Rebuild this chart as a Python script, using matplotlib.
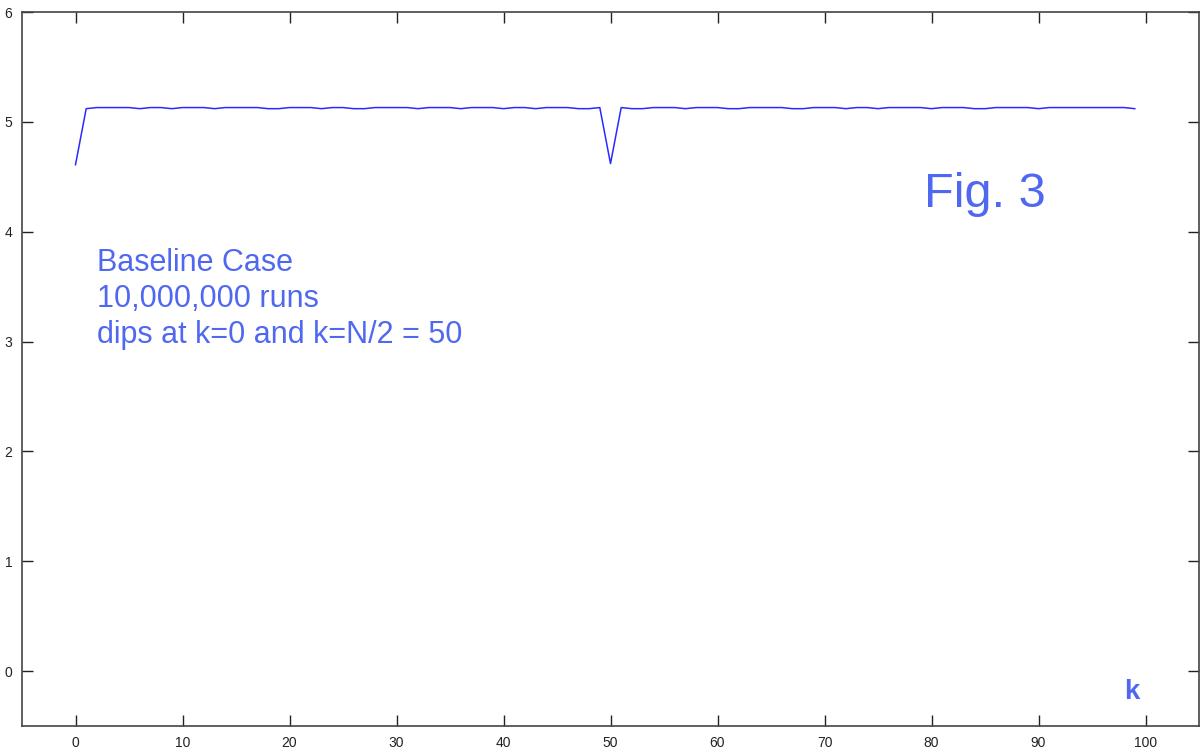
import matplotlib
matplotlib.use("Agg")
import matplotlib.pyplot as plt

# k = 0..99
k = list(range(100))
values = [
    4.61, 5.12, 5.13, 5.13, 5.13, 5.13, 5.12, 5.13, 5.13, 5.12,
    5.13, 5.13, 5.13, 5.12, 5.13, 5.13, 5.13, 5.13, 5.12, 5.12,
    5.13, 5.13, 5.13, 5.12, 5.13, 5.13, 5.12, 5.12, 5.13, 5.13,
    5.13, 5.13, 5.12, 5.13, 5.13, 5.13, 5.12, 5.13, 5.13, 5.13,
    5.12, 5.13, 5.13, 5.12, 5.13, 5.13, 5.13, 5.12, 5.12, 5.13,
    4.62, 5.13, 5.12, 5.12, 5.13, 5.13, 5.13, 5.12, 5.13, 5.13,
    5.13, 5.12, 5.12, 5.13, 5.13, 5.13, 5.13, 5.12, 5.12, 5.13,
    5.13, 5.13, 5.12, 5.13, 5.13, 5.12, 5.13, 5.13, 5.13, 5.13,
    5.12, 5.13, 5.13, 5.13, 5.12, 5.12, 5.13, 5.13, 5.13, 5.13,
    5.12, 5.13, 5.13, 5.13, 5.13, 5.13, 5.13, 5.13, 5.13, 5.12,
]
x_ticks = list(range(0, 101, 10))
y_ticks = list(range(0, 7))
notes = ["Baseline Case", "10,000,000 runs", "dips at k=0 and k=N/2 = 50"]

text_color = "#5068f0"
plt.rcParams['font.family'] = ['Liberation Sans', 'DejaVu Sans']

fig = plt.figure(figsize=(12.04, 7.48), dpi=100)
ax = fig.add_axes([22 / 1204, 22 / 748, 1177 / 1204, 714 / 748])

ax.plot(k, values, color="#2a2aff", linewidth=1.1)

ax.set_xlim(-5, 105)
ax.set_ylim(-0.5, 6)
ax.set_xticks(x_ticks)
ax.set_yticks(y_ticks)
ax.tick_params(direction="in", length=8, width=1, top=True, right=True,
               labelsize=10, colors="#222222", pad=7)
for s in ax.spines.values():
    s.set_color("#444444")
    s.set_linewidth(1.2)

for i, line in enumerate(notes):
    ax.text(2.0, 3.64 - i * 0.325, line, fontsize=22, color=text_color,
            va="baseline", ha="left")

ax.text(79.3, 4.225, "Fig. 3", fontsize=35, color=text_color, va="baseline")
ax.text(98.7, -0.25, "k", fontsize=20, fontweight="bold", color=text_color,
        va="baseline", ha="center")

fig.savefig("out.png", dpi=100)
